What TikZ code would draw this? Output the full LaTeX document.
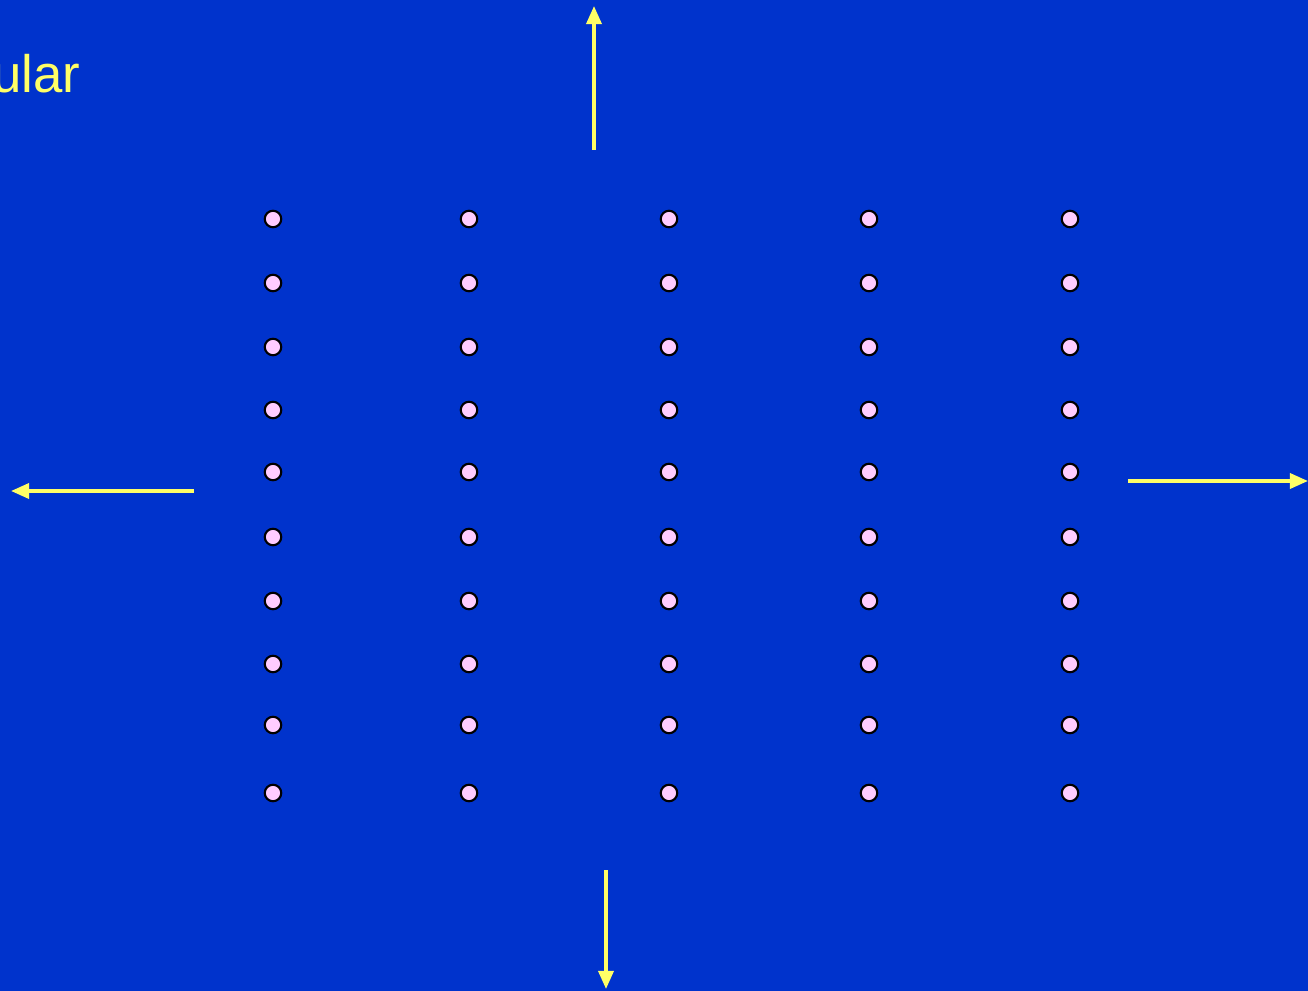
\documentclass[tikz,border=0pt]{standalone}
\usepackage{fontspec}
\setmainfont{Liberation Sans}
\usetikzlibrary{arrows.meta}
\definecolor{bgblue}{HTML}{0033CC}
\definecolor{arryellow}{HTML}{FFFF66}
\definecolor{dotpink}{HTML}{FFCCFF}

\begin{document}
\begin{tikzpicture}[x=0.01cm,y=-0.01cm,>={Triangle[length=0.18cm,width=0.15cm]},
  molecule/.style={circle,draw=black,fill=dotpink,line width=0.6pt,minimum size=0.165cm,inner sep=0pt},
  flow/.style={->,draw=arryellow,line width=0.95pt}]
\fill[bgblue] (0,0) rectangle (1308,991);
\useasboundingbox (0,0) rectangle (1308,991);
\node[anchor=base east,text=arryellow,font=\fontsize{15}{18}\selectfont,inner sep=0pt] (title) at (81,93) {ular};
\foreach \c/\x in {1/273,2/469,3/669,4/869,5/1070}
  \foreach \r/\y in {1/219,2/283,3/347,4/410,5/472,6/537,7/601,8/664,9/725,10/793}
    \node[molecule] (m\c-\r) at (\x,\y) {};
% arrows out of the lattice
\coordinate (upA) at (594,150);   \coordinate (upB) at (594,6);
\coordinate (leftA) at (194,491); \coordinate (leftB) at (11,491);
\coordinate (rightA) at (1128,481); \coordinate (rightB) at (1308,481);
\coordinate (downA) at (606,870); \coordinate (downB) at (606,989);
\draw[flow] (upA) -- (upB);
\draw[flow] (leftA) -- (leftB);
\draw[flow] (rightA) -- (rightB);
\draw[flow] (downA) -- (downB);
\end{tikzpicture}
\end{document}
